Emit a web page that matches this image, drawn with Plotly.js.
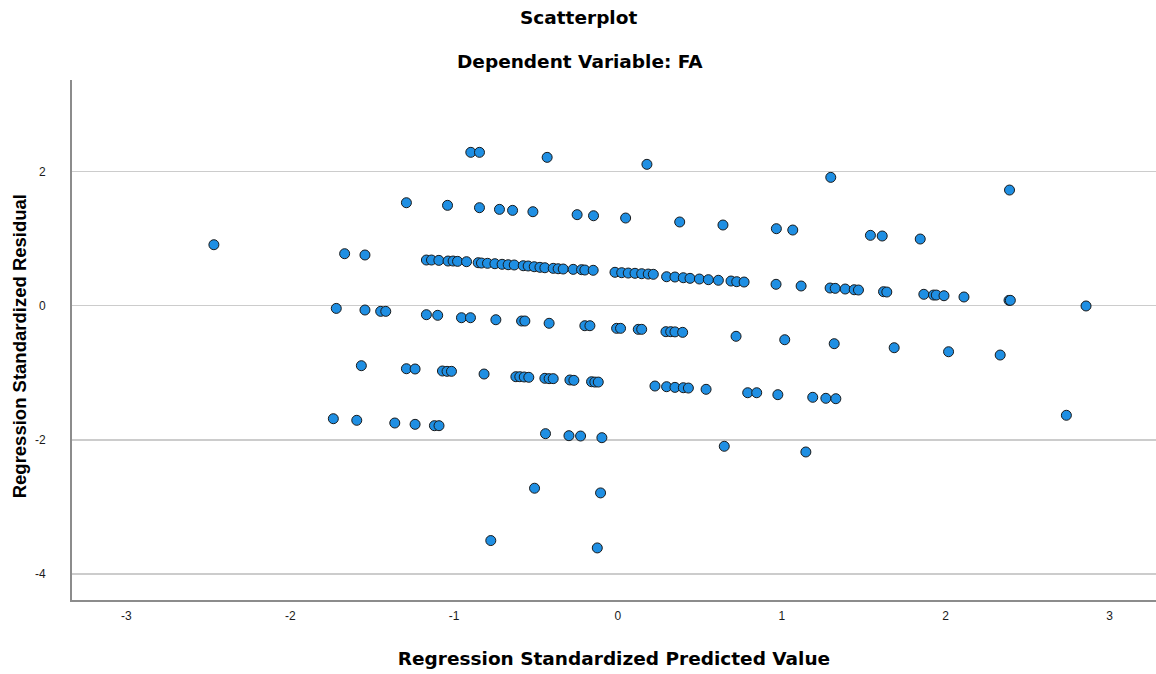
<!DOCTYPE html>
<html>
<head>
<meta charset="utf-8">
<script src="https://cdn.plot.ly/plotly-3.0.1.min.js"></script>
<style>html,body{margin:0;padding:0;background:#fff;}#chart{width:1156px;height:674px;}</style>
</head>
<body>
<div id="chart"></div>
<script>
// Regression Standardized Predicted Value (x) / Regression Standardized Residual (y), read row by row
const bandX = [-2.466,-1.668,-1.544,-1.169,-1.138,-1.093,-1.037,-1.006,-0.979,-0.924,-0.853,-0.833,-0.796,-0.751,-0.707,-0.670,-0.633,-0.578,-0.548,-0.511,-0.476,-0.446,-0.395,-0.365,-0.334,-0.273,-0.222,-0.202,-0.151,-0.018,0.023,0.063,0.104,0.145,0.185,0.216,0.297,0.348,0.399,0.440,0.497,0.552,0.613,0.690,0.725,0.770,0.965,1.118,1.295,1.326,1.387,1.442,1.468,1.621,1.641,1.867,1.926,1.943,1.990,2.112,2.387,2.395,2.857];
const bandY = [0.909,0.775,0.756,0.681,0.681,0.676,0.666,0.666,0.661,0.656,0.641,0.636,0.632,0.626,0.617,0.611,0.607,0.596,0.592,0.581,0.572,0.566,0.557,0.551,0.547,0.542,0.537,0.532,0.528,0.498,0.492,0.487,0.483,0.477,0.472,0.468,0.432,0.428,0.417,0.408,0.398,0.388,0.379,0.368,0.358,0.353,0.319,0.294,0.264,0.259,0.249,0.238,0.234,0.209,0.204,0.170,0.159,0.159,0.149,0.130,0.080,0.080,-0.004];

const upperX = [-1.291,-1.040,-0.845,-0.723,-0.643,-0.519,-0.249,-0.149,0.047,0.377,0.641,0.967,1.067,1.541,1.613,1.845];
const upperY = [1.535,1.496,1.461,1.436,1.421,1.401,1.357,1.341,1.307,1.248,1.203,1.148,1.128,1.049,1.039,0.994];

const topX = [-0.898,-0.845,-0.432,0.177,1.299,2.390];
const topY = [2.286,2.286,2.211,2.107,1.913,1.724];

const zeroX = [-1.719,-1.544,-1.448,-1.417,-1.169,-1.100,-0.955,-0.900,-0.745,-0.588,-0.568,-0.420,-0.202,-0.171,-0.008,0.016,0.124,0.145,0.293,0.322,0.348,0.395,0.721,1.018,1.320,1.686,2.018,2.333];
const zeroY = [-0.040,-0.064,-0.084,-0.084,-0.134,-0.143,-0.179,-0.179,-0.209,-0.228,-0.228,-0.262,-0.298,-0.298,-0.337,-0.337,-0.352,-0.352,-0.387,-0.387,-0.390,-0.397,-0.456,-0.507,-0.566,-0.626,-0.686,-0.735];

const minusOneX = [-1.566,-1.291,-1.238,-1.071,-1.043,-1.016,-0.817,-0.623,-0.599,-0.572,-0.544,-0.446,-0.420,-0.395,-0.293,-0.269,-0.161,-0.141,-0.120,0.226,0.297,0.348,0.399,0.430,0.538,0.792,0.847,0.976,1.189,1.269,1.330];
const minusOneY = [-0.894,-0.939,-0.943,-0.973,-0.978,-0.978,-1.018,-1.058,-1.058,-1.062,-1.067,-1.082,-1.087,-1.087,-1.107,-1.112,-1.133,-1.138,-1.138,-1.197,-1.207,-1.217,-1.222,-1.227,-1.246,-1.297,-1.297,-1.326,-1.365,-1.380,-1.386];

const lowX = [-1.737,-1.594,-1.362,-1.238,-1.120,-1.092];
const lowY = [-1.684,-1.708,-1.748,-1.768,-1.788,-1.788];

const otherX = [-0.442,-0.299,-0.228,-0.098,0.649,1.147,2.737,-0.509,-0.106,-0.776,-0.126];
const otherY = [-1.907,-1.937,-1.942,-1.967,-2.095,-2.180,-1.633,-2.720,-2.790,-3.500,-3.610];

const yTickVals = [-4, -2, 0, 2];
const yTickText = ['-4', '-2', '0', '2'];
const xTickVals = [-3, -2, -1, 0, 1, 2, 3];
const xTickText = ['-3', '-2', '-1', '0', '1', '2', '3'];

const predicted = [].concat(bandX, upperX, topX, zeroX, minusOneX, lowX, otherX);
const residual = [].concat(bandY, upperY, topY, zeroY, minusOneY, lowY, otherY);

const font = "Arial, 'Liberation Sans', sans-serif";
const wide = "'DejaVu Sans', Arial, sans-serif";

const trace = {
  x: predicted,
  y: residual,
  type: 'scatter',
  mode: 'markers',
  marker: {size: 10, color: '#1f8fe3', line: {color: '#1a1a1a', width: 1}},
  hoverinfo: 'x+y'
};

const layout = {
  width: 1156, height: 674,
  margin: {l: 72, r: 0, t: 80, b: 74},
  paper_bgcolor: '#ffffff', plot_bgcolor: '#ffffff',
  showlegend: false,
  font: {family: font, color: '#000'},
  xaxis: {
    range: [-3.332, 3.284],
    tickvals: xTickVals, ticktext: xTickText,
    showgrid: false, zeroline: false,
    showline: true, linecolor: '#8c8c8c', linewidth: 2,
    ticks: 'outside', ticklen: 4, tickcolor: 'rgba(0,0,0,0)',
    tickfont: {size: 12, family: font, color: '#1a1a1a'},
    title: {text: 'Regression Standardized Predicted Value', font: {size: 18.5, family: wide, color: '#000', weight: 'bold'}, standoff: 30}
  },
  yaxis: {
    range: [-4.386, 3.364],
    tickvals: yTickVals, ticktext: yTickText,
    showgrid: true, gridcolor: '#cccccc', gridwidth: 1.5,
    zeroline: false,
    showline: true, linecolor: '#8c8c8c', linewidth: 2,
    ticks: 'outside', ticklen: 22, tickcolor: 'rgba(0,0,0,0)',
    tickfont: {size: 12, family: font, color: '#1a1a1a'},
    title: {text: '', font: {size: 18.5, family: font}}
  },
  annotations: [
    {text: '<b>Scatterplot</b>', xref: 'paper', yref: 'paper', x: 0.467, y: (600 - 18) / 520, xanchor: 'center', yanchor: 'middle', showarrow: false, font: {size: 18.5, family: wide, color: '#000'}},
    {text: '<b>Dependent Variable: FA</b>', xref: 'paper', yref: 'paper', x: 0.469, y: (600 - 62) / 520, xanchor: 'center', yanchor: 'middle', showarrow: false, font: {size: 18.5, family: wide, color: '#000'}},
    {text: '<b>Regression Standardized Residual</b>', xref: 'paper', yref: 'paper', x: -0.0486, y: (600 - 346) / 520, xanchor: 'center', yanchor: 'middle', textangle: -90, showarrow: false, font: {size: 18.5, family: font, color: '#000'}}
  ]
};

Plotly.newPlot('chart', [trace], layout, {displayModeBar: false, staticPlot: true});
</script>
</body>
</html>
